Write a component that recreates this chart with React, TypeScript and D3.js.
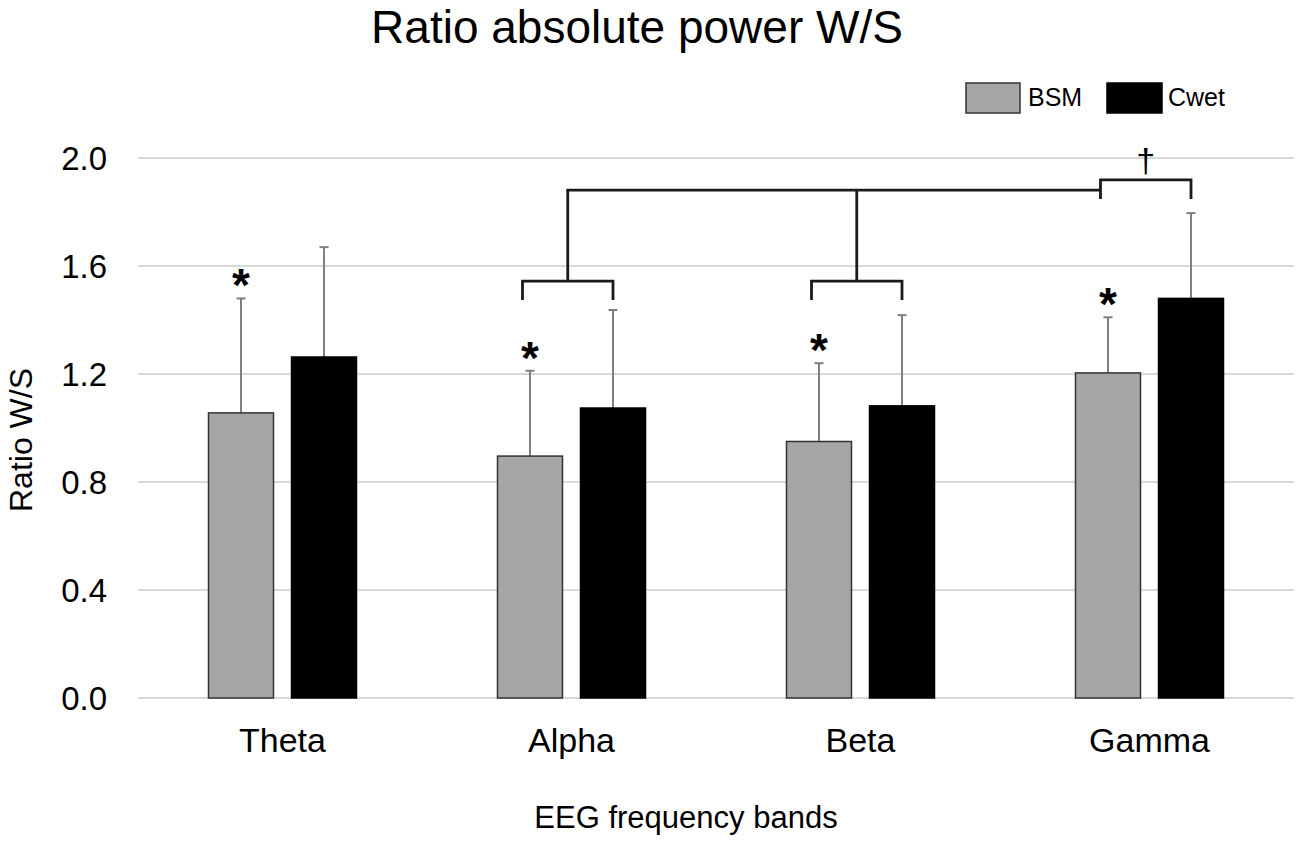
import React from "react";
import * as d3 from "d3";

const categories = ["Theta", "Alpha", "Beta", "Gamma"];
const seriesNames = ["BSM", "Cwet"];
const bsmMeans = [1.056, 0.896, 0.950, 1.204];
const bsmErrTop = [1.48, 1.212, 1.24, 1.41];
const cwetMeans = [1.263, 1.074, 1.082, 1.48];
const cwetErrTop = [1.67, 1.437, 1.418, 1.796];
const bsmStars = [true, true, true, true];
const yTicks = [0, 0.4, 0.8, 1.2, 1.6, 2.0];

// significance brackets (values in data units)
const pairBracketCats = ["Alpha", "Beta"];
const pairBracketY = 1.544;
const pairLegBottom = 1.474;
const connectorY = 1.881;
const gammaBracketY = 1.919;
const gammaLegBottom = 1.848;

const W = 1300;
const H = 842;
const left = 138;
const right = 1294;
const top = 158;
const bottom = 698;

const COLORS = { BSM: "#a6a6a6", Cwet: "#000000" };
const FONT = "'Liberation Sans', Arial, Helvetica, sans-serif";

export default function App() {
  const x0 = d3.scaleBand<string>().domain(categories).range([left, right]).paddingInner(0).paddingOuter(0);
  const step = x0.bandwidth();
  const x1 = d3
    .scaleBand<string>()
    .domain(seriesNames)
    .range([(step - 148) / 2, (step + 148) / 2])
    .paddingInner(0.217)
    .paddingOuter(0);
  const y = d3.scaleLinear().domain([0, 2]).range([bottom, top]);
  const bw = x1.bandwidth();

  const center = (cat: string, s: string) => (x0(cat) as number) + (x1(s) as number) + bw / 2;

  const data = categories.map((c, i) => ({
    cat: c,
    vals: [
      { s: "BSM", v: bsmMeans[i], e: bsmErrTop[i], star: bsmStars[i] },
      { s: "Cwet", v: cwetMeans[i], e: cwetErrTop[i], star: false },
    ],
  }));

  const legOffset = 7.5;
  const bracketLeft = (cat: string) => center(cat, "BSM") - legOffset;
  const bracketRight = (cat: string) => center(cat, "Cwet");

  const pairCenters = pairBracketCats.map((c) => (bracketLeft(c) + bracketRight(c)) / 2);
  const gammaL = bracketLeft("Gamma");
  const gammaR = bracketRight("Gamma");

  const bracketStroke = { stroke: "#1a1a1a", strokeWidth: 2.8, fill: "none" };

  return (
    <svg width={W} height={H} style={{ position: "absolute", left: 0, top: 0, background: "#fff" }} fontFamily={FONT}>
      {/* title */}
      <text x={637} y={43} fontSize={46} textAnchor="middle" fill="#000">
        Ratio absolute power W/S
      </text>

      {/* gridlines */}
      {yTicks.map((t) => (
        <line key={t} x1={left} x2={right} y1={y(t)} y2={y(t)} stroke="#d9d9d9" strokeWidth={2} />
      ))}
      {/* y tick labels */}
      {yTicks.map((t) => (
        <text key={"l" + t} x={107} y={y(t)} dy="0.36em" fontSize={33} textAnchor="end" fill="#000">
          {d3.format(".1f")(t)}
        </text>
      ))}

      {/* y title */}
      <text transform={`translate(32,${(top + bottom) / 2 + 12}) rotate(-90)`} fontSize={32} textAnchor="middle" fill="#000">
        Ratio W/S
      </text>

      {/* bars */}
      {data.map((d) => (
        <g key={d.cat}>
          {d.vals.map((b) => {
            const cx = center(d.cat, b.s);
            return (
              <g key={b.s}>
                <line x1={cx} x2={cx} y1={y(b.v)} y2={y(b.e)} stroke="#7f7f7f" strokeWidth={2} />
                <line x1={cx - 4.5} x2={cx + 4.5} y1={y(b.e)} y2={y(b.e)} stroke="#7f7f7f" strokeWidth={2} />
                <rect
                  x={(x0(d.cat) as number) + (x1(b.s) as number)}
                  y={y(b.v)}
                  width={bw}
                  height={y(0) - y(b.v)}
                  fill={COLORS[b.s as keyof typeof COLORS]}
                  stroke={b.s === "BSM" ? "#333" : "#000"}
                  strokeWidth={1.5}
                />
                {b.star && (
                  <text x={cx} y={y(b.e) + 3} fontSize={46} textAnchor="middle" fill="#000" fontWeight="bold">
                    *
                  </text>
                )}
              </g>
            );
          })}
          <text x={(x0(d.cat) as number) + step / 2} y={752} fontSize={34} textAnchor="middle" fill="#000">
            {d.cat}
          </text>
        </g>
      ))}

      {/* pair brackets */}
      {pairBracketCats.map((c, i) => (
        <g key={"br" + c}>
          <path
            d={`M${bracketLeft(c)},${y(pairLegBottom)}V${y(pairBracketY)}H${bracketRight(c)}V${y(pairLegBottom)}`}
            {...bracketStroke}
          />
          <line x1={pairCenters[i]} x2={pairCenters[i]} y1={y(pairBracketY)} y2={y(connectorY)} {...bracketStroke} />
        </g>
      ))}
      <line x1={pairCenters[0] - 1.4} x2={gammaL} y1={y(connectorY)} y2={y(connectorY)} {...bracketStroke} />
      <path
        d={`M${gammaL},${y(gammaLegBottom)}V${y(gammaBracketY)}H${gammaR}V${y(gammaLegBottom)}`}
        {...bracketStroke}
      />
      <text x={(gammaL + gammaR) / 2} y={172} fontSize={34} textAnchor="middle" fill="#000">
        †
      </text>

      {/* x title */}
      <text x={686} y={828} fontSize={31} textAnchor="middle" fill="#000">
        EEG frequency bands
      </text>

      {/* legend */}
      <rect x={966} y={83} width={54} height={30} fill={COLORS.BSM} stroke="#333" strokeWidth={1.5} />
      <text x={1028} y={106} fontSize={25} fill="#000">BSM</text>
      <rect x={1107} y={83} width={55} height={30} fill={COLORS.Cwet} stroke="#000" strokeWidth={1.5} />
      <text x={1168} y={106} fontSize={25} fill="#000">Cwet</text>
    </svg>
  );
}
